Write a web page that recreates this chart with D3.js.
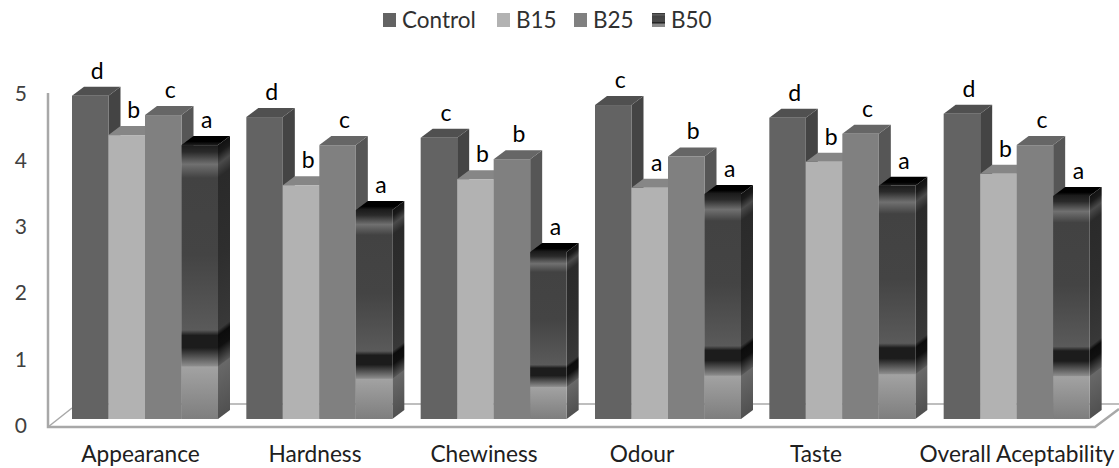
<!DOCTYPE html>
<html><head><meta charset="utf-8">
<script src="https://cdn.jsdelivr.net/npm/d3@7"></script>
<style>html,body{margin:0;padding:0;background:#fff}svg{display:block}text{font-family:Lato,"Open Sans",sans-serif}</style>
</head><body><svg id="c" width="1119" height="468"></svg>
<script>
const categories=["Appearance","Hardness","Chewiness","Odour","Taste","Overall Aceptability"];
const seriesNames=["Control","B15","B25","B50"];
const control=[4.84,4.52,4.21,4.70,4.51,4.57];
const b15=[4.25,3.50,3.59,3.46,3.85,3.67];
const b25=[4.55,4.10,3.89,3.93,4.27,4.10];
const b50=[4.10,3.13,2.50,3.37,3.49,3.34];
const letterControl=["d","d","c","c","d","d"];
const letterB15=["b","b","b","a","b","b"];
const letterB25=["c","c","b","b","c","c"];
const letterB50=["a","a","a","a","a","a"];
const yTicks=[0,1,2,3,4,5];
const seriesValues=[control,b15,b25,b50];
const seriesLetters=[letterControl,letterB15,letterB25,letterB50];

const faceColors=[
 {front:"#636363",side:"#444444",top:"#505050"},
 {front:"#b2b2b2",side:"#6f6f6f",top:"#868686"},
 {front:"#808080",side:"#565656",top:"#666666"},
 {front:"url(#gFront)",side:"url(#gSide)",top:"url(#gTop)"}
];
const svg=d3.select("#c");
const defs=svg.append("defs");
function grad(id,stops,vertical=true){
  const g=defs.append("linearGradient").attr("id",id).attr("x1",0).attr("y1",0).attr("x2",vertical?0:1).attr("y2",vertical?1:0);
  stops.forEach(s=>g.append("stop").attr("offset",s[0]).attr("stop-color",s[1]));
}
grad("gFront",[[0,"#1c1c1c"],[.025,"#2a2a2a"],[.07,"#707070"],[.12,"#424242"],[.4,"#444444"],[.675,"#5a5a5a"],[.695,"#1c1c1c"],[.74,"#1c1c1c"],[.805,"#8a8a8a"],[.81,"#a2a2a2"],[1,"#7e7e7e"]]);
grad("gSide",[[0,"#111111"],[.03,"#1a1a1a"],[.07,"#4a4a4a"],[.12,"#2a2a2a"],[.4,"#2e2e2e"],[.675,"#383838"],[.695,"#0c0c0c"],[.74,"#101010"],[.805,"#555555"],[.81,"#686868"],[1,"#505050"]]);
grad("gTop",[[0,"#000000"],[.6,"#000000"],[1,"#1e1e1e"]]);
grad("gLegend",[[0,"#2a2a2a"],[.12,"#606060"],[.25,"#424242"],[.6,"#4a4a4a"],[.7,"#1c1c1c"],[.8,"#8a8a8a"],[1,"#8a8a8a"]]);

const depthX=12,depthY=9,shear=depthY/depthX;
const x0=d3.scaleBand().domain(categories).range([72,1118]).paddingInner(0).paddingOuter(0);
const x1=d3.scaleBand().domain(seriesNames).range([0,146]);
const y=d3.scaleLinear().domain([0,5]).range([419,85]);
const yAxisScale=d3.scaleLinear().domain([0,5]).range([426,94]);

// floor and wall
const frame=svg.append("g").attr("fill","none").attr("stroke","#a8a8a8");
frame.append("path").attr("stroke-width",2.5).attr("d","M48,93V427H1095L1119,409");
frame.append("path").attr("stroke-width",1.5).attr("d","M48,427L72,408");
frame.append("path").attr("stroke-width",1.5).attr("d","M72,404H1119");

// bars
const groups=svg.selectAll("g.cat").data(categories).join("g").attr("class","cat")
  .attr("transform",c=>`translate(${x0(c)},0)`);
groups.each(function(c,ci){
  const g=d3.select(this);
  seriesNames.forEach((s,si)=>{
    const v=seriesValues[si][ci], left=x1(s), w=x1.bandwidth(), t=y(v), h=y(0)-t, col=faceColors[si];
    g.append("rect").attr("transform",`matrix(1,${-shear},0,1,${left+w},${t})`)
      .attr("width",depthX).attr("height",h).attr("fill",col.side);
    g.append("rect").attr("transform",`matrix(1,0,${-depthX/depthY},1,${left+depthX},${t-depthY})`)
      .attr("width",w).attr("height",depthY).attr("fill",col.top);
    g.append("rect").attr("x",left).attr("y",t).attr("width",w).attr("height",h).attr("fill",col.front);
  });
});
groups.each(function(c,ci){
  const g=d3.select(this);
  seriesNames.forEach((s,si)=>{
    g.append("text").attr("x",x1(s)+x1.bandwidth()/2+7).attr("y",y(seriesValues[si][ci])-depthY-8)
      .attr("text-anchor","middle").attr("font-size",23).attr("fill","#000").text(seriesLetters[si][ci]);
  });
});

// axes
const ay=svg.append("g").attr("transform","translate(27,0)")
  .call(d3.axisLeft(yAxisScale).tickValues(yTicks).tickFormat(d3.format("d")).tickSize(0).tickPadding(0));
ay.select(".domain").remove();
ay.selectAll("text").attr("font-size",21).attr("fill","#404040").style("font-family","Lato,sans-serif");

const labelX=[140.5,315,484,642,816,1017];
const labelScale=d3.scaleOrdinal().domain(categories).range(labelX);
svg.selectAll("text.xl").data(categories).join("text").attr("class","xl")
  .attr("x",c=>labelScale(c)).attr("y",462).attr("text-anchor","middle")
  .attr("font-size",22.7).attr("fill","#202020").text(c=>c);

// legend
const legendSwatchX=[383,497,574,652];
const legendFills=["#636363","#b2b2b2","#808080","url(#gLegend)"];
const lg=svg.append("g");
seriesNames.forEach((s,i)=>{
  lg.append("rect").attr("x",legendSwatchX[i]).attr("y",13).attr("width",13).attr("height",14).attr("fill",legendFills[i]);
  lg.append("text").attr("x",legendSwatchX[i]+19).attr("y",28).attr("font-size",22.5).attr("fill","#303030").text(s);
});
</script></body></html>
